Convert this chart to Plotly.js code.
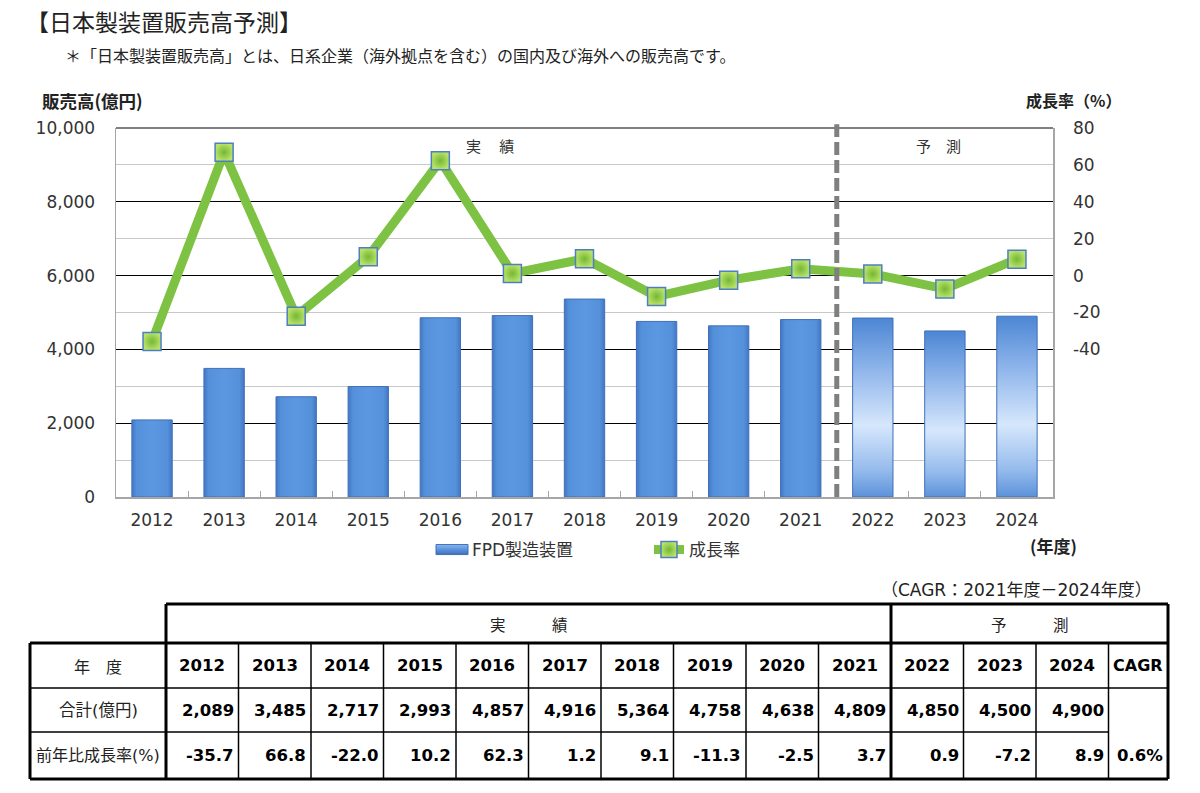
<!DOCTYPE html>
<html>
<head>
<meta charset="utf-8">
<script src="https://cdn.plot.ly/plotly-3.0.1.min.js"></script>
<style>html,body{margin:0;padding:0;background:#fff;}#chart{width:1200px;height:793px;}</style>
</head>
<body>
<div id="chart"></div>
<script>
// ---- data ----
const years = ['2012','2013','2014','2015','2016','2017','2018','2019','2020','2021','2022','2023','2024'];
const sales = [2089, 3485, 2717, 2993, 4857, 4916, 5364, 4758, 4638, 4809, 4850, 4500, 4900];
const growth = [-35.7, 66.8, -22.0, 10.2, 62.3, 1.2, 9.1, -11.3, -2.5, 3.7, 0.9, -7.2, 8.9];
const cagr = '0.6%';
const forecastStartIndex = 10;
const rightTickVals = [80, 60, 40, 20, 0, -20, -40];
const rightTickText = rightTickVals.map(v => String(v));
const rowLabels = ['年　度', '合計(億円)', '前年比成長率(%)'];
const seriesNames = ['FPD製造装置', '成長率'];

// ---- layout helpers (pixel -> paper) ----
const L = 116, R = 1053, T = 128, B = 497;
const W = R - L, H = B - T;
const PX = x => (x - L) / W;
const PY = y => (B - y) / H;
const JP = 'Noto Sans CJK JP';
const NUM = 'DejaVu Sans';
const MIX = 'DejaVu Sans, Noto Sans CJK JP';

const annotations = [];
const shapes = [];
function txt(x, y, text, opt) {
  opt = opt || {};
  annotations.push({
    xref: 'paper', yref: 'paper', x: PX(x), y: PY(y), text: text, showarrow: false,
    xanchor: opt.xa || 'center', yanchor: 'middle',
    font: {family: opt.family || JP, size: opt.size || 16, color: opt.color || '#000', weight: opt.bold ? 'bold' : 'normal'}
  });
}
function hline(y, x0, x1, w) {
  shapes.push({type: 'line', xref: 'paper', yref: 'paper', x0: PX(x0), x1: PX(x1), y0: PY(y), y1: PY(y), line: {color: '#000', width: w}});
}
function vline(x, y0, y1, w) {
  shapes.push({type: 'line', xref: 'paper', yref: 'paper', x0: PX(x), x1: PX(x), y0: PY(y0), y1: PY(y1), line: {color: '#000', width: w}});
}

// titles
txt(24, 21, '【日本製装置販売高予測】', {xa: 'left', size: 23, color: '#222'});
txt(63, 55, '＊「日本製装置販売高」とは、日系企業（海外拠点を含む）の国内及び海外への販売高です。', {xa: 'left', size: 16, color: '#222'});
txt(40, 100, '販売高(億円)', {xa: 'left', size: 17.5, bold: true, color: '#222'});
txt(1024, 100, '成長率（%）', {xa: 'left', size: 16, bold: true, color: '#222'});
txt(1028, 545, '(年度)', {xa: 'left', size: 17, bold: true, color: '#222'});
// period labels in plot
txt(490, 145, '実　 績', {size: 15, color: '#333'});
txt(938, 145, '予　測', {size: 15, color: '#333'});

// top border of plot (black) and forecast divider
shapes.push({type: 'line', xref: 'paper', yref: 'paper', x0: 0, x1: 1, y0: 1, y1: 1, line: {color: '#000', width: 1}});
shapes.push({type: 'line', xref: 'x', yref: 'paper', x0: forecastStartIndex - 0.5, x1: forecastStartIndex - 0.5, y0: 0, y1: 1.01,
  line: {color: '#7F7F7F', width: 5, dash: '13px,5px'}, layer: 'above'});

// ---- table ----
txt(1154, 590, '（CAGR：2021年度－2024年度）', {xa: 'right', size: 17, color: '#222', family: MIX});
const tL = 30, tC = 166, colW = 72.5, tR = 1168;
const colEdges = [];
for (let i = 0; i <= years.length; i++) colEdges.push(tC + i * colW);
const cagrL = colEdges[years.length];
const divX = colEdges[forecastStartIndex];
const rows = [604, 643, 688, 732, 779];
const THICK = 3, THIN = 1.5;
hline(rows[0], tC, tR, THICK);
hline(rows[1], tL, tR, THICK);
hline(rows[2], tL, tR, THIN);
hline(rows[3], tL, cagrL, THIN);
hline(rows[4], tL, tR, THICK);
vline(tL, rows[1], rows[4], THICK);
vline(tC, rows[0], rows[4], THICK);
vline(divX, rows[0], rows[4], THICK);
vline(tR, rows[0], rows[4], THICK);
for (let i = 1; i <= years.length; i++) {
  if (i === forecastStartIndex) continue;
  vline(colEdges[i], rows[1], rows[4], THIN);
}
const mid = k => (rows[k] + rows[k + 1]) / 2;
txt((tC + divX) / 2, mid(0), '実　　　績', {size: 15.5, color: '#222'});
txt((divX + tR) / 2, mid(0), '予　　　測', {size: 15.5, color: '#222'});
txt((tL + tC) / 2, mid(1), rowLabels[0], {size: 16, color: '#222'});
txt((tL + tC) / 2, mid(2), rowLabels[1], {size: 16.5, color: '#222', family: MIX});
txt((tL + tC) / 2, mid(3), rowLabels[2], {size: 16, color: '#222', family: MIX});
years.forEach((yr, i) => {
  const cx = (colEdges[i] + colEdges[i + 1]) / 2;
  const rx = colEdges[i + 1] - 3;
  txt(cx, mid(1), yr, {family: NUM, size: 16.5, bold: true});
  txt(rx, mid(2), sales[i].toLocaleString('en-US'), {family: NUM, size: 16.5, bold: true, xa: 'right'});
  txt(rx, mid(3), growth[i].toFixed(1), {family: NUM, size: 16.5, bold: true, xa: 'right'});
});
txt((cagrL + tR) / 2, mid(1), 'CAGR', {family: NUM, size: 16, bold: true});
txt(tR - 3, mid(3), cagr, {family: NUM, size: 16.5, bold: true, xa: 'right'});

// ---- traces ----
const barColors = years.map((y, i) => i >= forecastStartIndex ? '#8DB5EA' : '#5B93DC');
const data = [
  {type: 'bar', x: years, y: sales, name: seriesNames[0], yaxis: 'y', width: 0.56,
   marker: {color: barColors, line: {color: '#3F70B8', width: 1}}, hoverinfo: 'skip'},
  {type: 'scatter', mode: 'lines+markers', x: years, y: growth, yaxis: 'y2', name: seriesNames[1],
   line: {color: '#7DC242', width: 9},
   marker: {symbol: 'square', size: 18, color: '#B8E26A', gradient: {type: 'radial', color: '#74B833'},
            line: {color: '#4F7FC0', width: 1.5}}, hoverinfo: 'skip'}
];

const tickFont = {family: NUM, size: 17, color: '#333'};
const layout = {
  width: 1200, height: 793,
  margin: {l: L, r: 1200 - R, t: T, b: 793 - B, pad: 0},
  paper_bgcolor: '#fff', plot_bgcolor: '#fff',
  font: {family: MIX, color: '#333'},
  showlegend: true,
  legend: {orientation: 'h', x: PX(432), xanchor: 'left', y: PY(550), yanchor: 'middle',
           font: {family: MIX, size: 17, color: '#333'}, itemwidth: 30,
           entrywidth: 172, entrywidthmode: 'pixels', bgcolor: 'rgba(0,0,0,0)'},
  xaxis: {type: 'category', range: [-0.5, years.length - 0.5], showline: true, linecolor: '#A6A6A6', linewidth: 1.5,
          ticks: 'inside', tickson: 'boundaries', ticklen: 6, tickcolor: '#A6A6A6', showgrid: false,
          tickfont: tickFont, ticklabelstandoff: 7, fixedrange: true},
  yaxis: {range: [0, 10000], dtick: 2000, tickformat: ',d', gridcolor: '#000', gridwidth: 1,
          minor: {dtick: 1000, showgrid: true, gridcolor: '#C8C8C8', gridwidth: 1},
          showline: true, linecolor: '#A6A6A6', linewidth: 1.5, zeroline: false, ticks: '',
          tickfont: tickFont, ticklabelstandoff: 16, fixedrange: true},
  yaxis2: {overlaying: 'y', side: 'right', range: [-120, 80], tickvals: rightTickVals, ticktext: rightTickText,
           showgrid: false, zeroline: false, showline: true, linecolor: '#A6A6A6', linewidth: 1.5, ticks: '',
           tickfont: tickFont, ticklabelstandoff: 15, fixedrange: true},
  shapes: shapes,
  annotations: annotations
};

const gd = document.getElementById('chart');
Plotly.newPlot(gd, data, layout, {staticPlot: true, displayModeBar: false}).then(() => {
  const svg = gd.querySelector('svg.main-svg');
  const ns = 'http://www.w3.org/2000/svg';
  let defs = svg.querySelector('defs');
  if (!defs) { defs = document.createElementNS(ns, 'defs'); svg.insertBefore(defs, svg.firstChild); }
  function grad(id, vertical, stops) {
    const g = document.createElementNS(ns, 'linearGradient');
    g.setAttribute('id', id);
    g.setAttribute('x1', '0'); g.setAttribute('y1', '0');
    g.setAttribute('x2', vertical ? '0' : '1'); g.setAttribute('y2', vertical ? '1' : '0');
    stops.forEach(s => {
      const st = document.createElementNS(ns, 'stop');
      st.setAttribute('offset', s[0]); st.setAttribute('stop-color', s[1]);
      g.appendChild(st);
    });
    defs.appendChild(g);
  }
  grad('gActual', false, [[0, '#4277C4'], [0.12, '#5590DB'], [0.5, '#5C98E2'], [0.88, '#5590DB'], [1, '#4277C4']]);
  grad('gFcst', true, [[0, '#4C86D4'], [0.25, '#86AFE8'], [0.6, '#D6E7FC'], [0.85, '#95BBEC'], [1, '#5C92DA']]);
  grad('gLegend', true, [[0, '#8CB8EE'], [0.5, '#5B93DC'], [1, '#3F70B8']]);
  const paths = gd.querySelectorAll('.barlayer .trace.bars .point path');
  paths.forEach((p, i) => {
    p.style.fill = i >= forecastStartIndex ? 'url(#gFcst)' : 'url(#gActual)';
  });
  // widen the bar swatch in the legend
  const firstTrace = gd.querySelector('.legend .traces');
  if (firstTrace) {
    const p = firstTrace.querySelector('.legendpoints path');
    if (p) { p.setAttribute('d', 'M16,5H-16V-5H16Z'); p.style.fill = 'url(#gLegend)'; }
  }
});
</script>
</body>
</html>
